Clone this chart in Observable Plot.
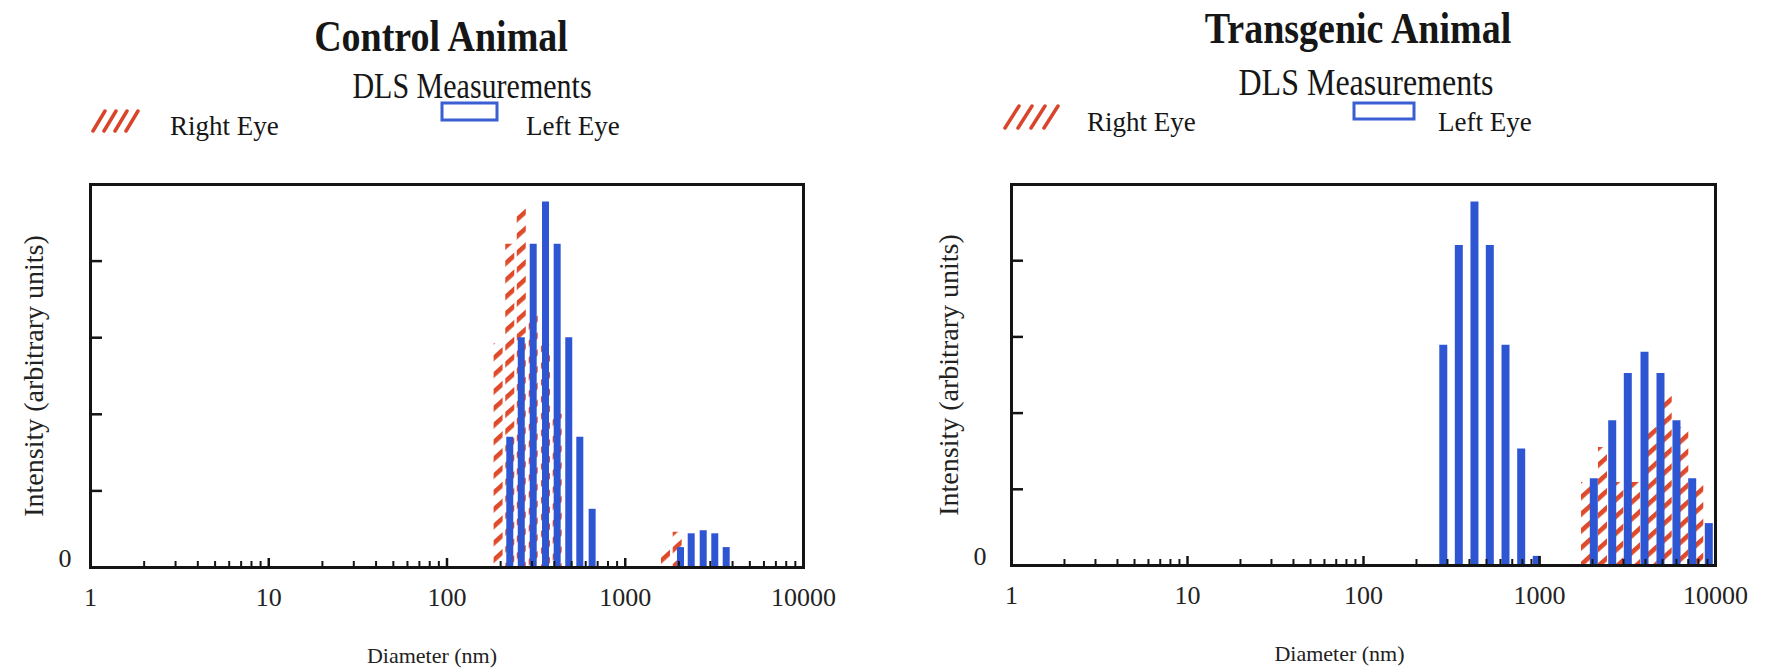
<!DOCTYPE html>
<html><head><meta charset="utf-8">
<script src="https://cdn.jsdelivr.net/npm/d3@7"></script>
<script src="https://cdn.jsdelivr.net/npm/@observablehq/plot@0.6"></script>
<style>
html,body{margin:0;padding:0;background:#fff}
body{width:1775px;height:669px;overflow:hidden;position:relative;font-family:"Liberation Serif","Times New Roman",serif;color:#161616}
.t{position:absolute;white-space:nowrap;line-height:1}
.c{transform-origin:50% 0}
.sw{position:absolute}
.plot{position:absolute;top:160px}
</style></head><body>
<svg width="0" height="0" style="position:absolute"><defs>
<pattern id="hatch" patternUnits="userSpaceOnUse" width="12" height="12.5" patternTransform="rotate(-42)">
<rect x="0" y="0" width="12" height="4.6" fill="#de4a2a"/>
</pattern></defs></svg>

<div class="t c" style="left:441px;top:14px;font-size:38px;font-weight:bold;transform:translateX(-50%) scaleY(1.17)">Control Animal</div>
<div class="t c" style="left:472px;top:67px;font-size:30px;transform:translateX(-50%) scaleY(1.22)">DLS Measurements</div>
<svg class="sw" style="left:90px;top:109px" width="54" height="24"><g stroke="#d9452b" stroke-width="3.5" stroke-linecap="round"><line x1="3" y1="22" x2="15" y2="2"/><line x1="14" y1="22" x2="26" y2="2"/><line x1="25" y1="22" x2="37" y2="2"/><line x1="36" y1="22" x2="48" y2="2"/></g></svg>
<div class="t" style="left:170px;top:113px;font-size:27px">Right Eye</div>
<svg class="sw" style="left:440px;top:101px" width="60" height="22"><rect x="2" y="2" width="55" height="17" fill="#fff" stroke="#3a5fd2" stroke-width="3"/></svg>
<div class="t" style="left:526px;top:113px;font-size:27px">Left Eye</div>

<div class="t c" style="left:1358px;top:6px;font-size:38px;font-weight:bold;transform:translateX(-50%) scaleY(1.17)">Transgenic Animal</div>
<div class="t c" style="left:1366px;top:63px;font-size:32px;transform:translateX(-50%) scaleY(1.2)">DLS Measurements</div>
<svg class="sw" style="left:1002px;top:104px" width="64" height="26"><g stroke="#d9452b" stroke-width="3.5" stroke-linecap="round"><line x1="3" y1="24" x2="17" y2="2"/><line x1="16" y1="24" x2="30" y2="2"/><line x1="29" y1="24" x2="43" y2="2"/><line x1="42" y1="24" x2="56" y2="2"/></g></svg>
<div class="t" style="left:1087px;top:109px;font-size:27px">Right Eye</div>
<svg class="sw" style="left:1352px;top:101px" width="66" height="21"><rect x="2" y="2" width="60" height="16" fill="#fff" stroke="#3a5fd2" stroke-width="3"/></svg>
<div class="t" style="left:1438px;top:109px;font-size:27px">Left Eye</div>

<div id="left" class="plot" style="left:0px"></div>
<div id="right" class="plot" style="left:887px"></div>

<script>
// Control animal — Right Eye (hatched red)
const controlRightDiam = [193.5, 225, 261, 304.5, 357, 415, 1682, 1956];
const controlRightInt  = [2.92, 4.22, 4.68, 3.3, 2.9, 2.0, 0.24, 0.46];
// Control animal — Left Eye (blue)
const controlLeftDiam = [225, 261, 304.5, 357, 415, 482, 556, 652, 2042, 2344, 2737, 3179, 3684];
const controlLeftInt  = [1.70, 3.00, 4.22, 4.77, 4.22, 3.00, 1.70, 0.76, 0.26, 0.44, 0.48, 0.44, 0.26];
// Transgenic animal — Right Eye (hatched red)
const transRightDiam = [1825, 2280, 2822, 3512, 4368, 5316, 6605, 8036];
const transRightInt  = [1.09, 1.55, 1.09, 1.09, 1.81, 2.23, 1.81, 1.09];
// Transgenic animal — Left Eye (blue)
const transLeftDiam = [284, 348, 427, 522, 641, 787, 965, 2035, 2589, 3175, 3950, 4869, 6002, 7373, 9160];
const transLeftInt  = [2.89, 4.20, 4.77, 4.20, 2.89, 1.53, 0.12, 1.14, 1.90, 2.52, 2.80, 2.52, 1.90, 1.14, 0.55];

const xTickLabels = [1, 10, 100, 1000, 10000];
const yTickValues = [1, 2, 3, 4];
const yTickLabels = [0];
const decades = [10, 100, 1000];
const minorTicks = [1, 10, 100, 1000].flatMap(p => [2,3,4,5,6,7,8,9].map(m => m * p));

const BLUE = "#2e56d3";
const INK = "#141414";

const zip = (d, v) => d.map((x, i) => ({d: x, v: v[i]}));

function panel({width, marginLeft, marginRight, marginTop, marginBottom, red, blue, blueW, redW, ylabDx, zeroPad, xlabDx}) {
  const height = 509;
  const plotW = width - marginLeft - marginRight;
  const plotH = height - marginTop - marginBottom;
  return Plot.plot({
    width, height, marginLeft, marginRight, marginTop, marginBottom,
    x: {type: "log", domain: [1, 10000], axis: null, label: null},
    y: {domain: [0, 5], axis: null, label: null},
    style: {fontFamily: "Liberation Serif, Times New Roman, serif", background: "transparent", overflow: "visible", color: INK},
    marks: [
      Plot.ruleX(red, {x: "d", y: "v", stroke: "url(#hatch)", strokeWidth: redW}),
      Plot.ruleX(blue, {x: "d", y: "v", stroke: BLUE, strokeWidth: blueW}),
      Plot.tickX(minorTicks, {x: d => d, insetTop: plotH - 6, stroke: INK, strokeWidth: 2}),
      Plot.tickX(decades, {x: d => d, insetTop: plotH - 9, stroke: INK, strokeWidth: 2.5}),
      Plot.tickY(yTickValues, {y: d => d, insetRight: plotW - 12, stroke: INK, strokeWidth: 2.5}),
      Plot.frame({stroke: INK, strokeWidth: 3}),
      Plot.axisX(xTickLabels, {label: null, tickSize: 0, tickPadding: 20, fontSize: 26, fill: "#222", tickFormat: d => String(d)}),
      Plot.axisY(yTickLabels, {label: null, tickSize: 0, tickPadding: zeroPad, fontSize: 26, fill: "#222", dy: -9, tickFormat: d => String(d)}),
      Plot.text(["Diameter (nm)"], {frameAnchor: "bottom", textAnchor: "middle", dx: xlabDx, dy: 95, fontSize: 22, fill: "#222"}),
      Plot.text(["Intensity (arbitrary units)"], {frameAnchor: "left", textAnchor: "middle", rotate: -90, dx: ylabDx, fontSize: 28, fill: "#222"})
    ]
  });
}

document.getElementById("left").append(panel({
  width: 887, marginLeft: 90, marginRight: 84, marginTop: 24, marginBottom: 102,
  red: zip(controlRightDiam, controlRightInt), blue: zip(controlLeftDiam, controlLeftInt), blueW: 7, redW: 9,
  ylabDx: -56, zeroPad: 19, xlabDx: -15
}));
document.getElementById("right").append(panel({
  width: 888, marginLeft: 124, marginRight: 60, marginTop: 24, marginBottom: 104,
  red: zip(transRightDiam, transRightInt), blue: zip(transLeftDiam, transLeftInt), blueW: 8, redW: 9,
  ylabDx: -62, zeroPad: 25, xlabDx: -24
}));
</script>
</body></html>
